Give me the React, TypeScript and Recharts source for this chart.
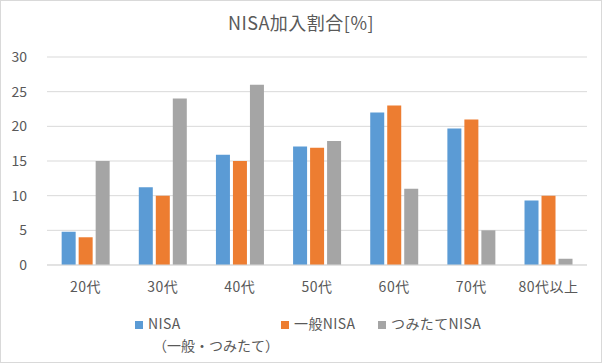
import React from 'react';
import { BarChart, Bar, XAxis, YAxis, CartesianGrid } from 'recharts';

const categories = ['20代', '30代', '40代', '50代', '60代', '70代', '80代以上'];
const nisaAll = [4.8, 11.2, 15.9, 17.1, 22.0, 19.7, 9.3];
const ippan = [4.0, 10.0, 15.0, 16.9, 23.0, 21.0, 10.0];
const tsumitate = [15.0, 24.0, 26.0, 17.9, 11.0, 5.0, 0.9];
const yTicks = [0, 5, 10, 15, 20, 25, 30];

const data = categories.map((c, i) => ({
  name: c,
  nisa: nisaAll[i],
  ippan: ippan[i],
  tsumitate: tsumitate[i],
}));

const FONT = '"Noto Sans CJK JP", "Noto Sans", sans-serif';
const TXT = '#595959';

const legendText: React.CSSProperties = { position: 'absolute', fontSize: 14, lineHeight: '18px', letterSpacing: 0.4 };
const sq = (c: string): React.CSSProperties => ({ display: 'inline-block', width: 8, height: 8, background: c, marginRight: 5 });

export default function App() {
  return (
    <div
      style={{
        position: 'absolute',
        left: 0,
        top: 0,
        width: 602,
        height: 363,
        boxSizing: 'border-box',
        border: '1px solid #d9d9d9',
        background: '#fff',
        fontFamily: FONT,
        color: TXT,
      }}
    >
      <div
        style={{
          position: 'absolute',
          left: -1,
          top: 8,
          width: 602,
          textAlign: 'center',
          fontSize: 18,
          letterSpacing: 0.5,
        }}
      >
        NISA加入割合[%]
      </div>
      <div style={{ position: 'absolute', left: -1, top: -1 }}>
        <BarChart
          width={602}
          height={363}
          data={data}
          margin={{ top: 57, right: 15, left: 0, bottom: 68 }}
          barCategoryGap="19%"
          barGap={3}
        >
          <CartesianGrid vertical={false} stroke="#d9d9d9" />
          <XAxis
            dataKey="name"
            height={30}
            tickLine={false}
            axisLine={{ stroke: '#d9d9d9' }}
            tick={{ fill: TXT, fontSize: 14, fontFamily: FONT, letterSpacing: 0.5 }}
            tickSize={0}
            tickMargin={17}
          />
          <YAxis
            width={47}
            domain={[0, 30]}
            ticks={yTicks}
            tickLine={false}
            axisLine={false}
            tick={{ fill: TXT, fontSize: 14, fontFamily: FONT }}
            tickSize={0}
            tickMargin={20}
          />
          <Bar dataKey="nisa" fill="#5B9BD5" isAnimationActive={false} />
          <Bar dataKey="ippan" fill="#ED7D31" isAnimationActive={false} />
          <Bar dataKey="tsumitate" fill="#A5A5A5" isAnimationActive={false} />
        </BarChart>
      </div>
      <div style={{ ...legendText, left: 134, top: 313 }}>
        <span style={sq('#5B9BD5')} />
        NISA
      </div>
      <div style={{ ...legendText, left: 152, top: 335, letterSpacing: 0 }}>
        （一般・つみたて）
      </div>
      <div style={{ ...legendText, left: 280, top: 313 }}>
        <span style={sq('#ED7D31')} />
        一般NISA
      </div>
      <div style={{ ...legendText, left: 377, top: 313 }}>
        <span style={sq('#A5A5A5')} />
        つみたてNISA
      </div>
    </div>
  );
}
